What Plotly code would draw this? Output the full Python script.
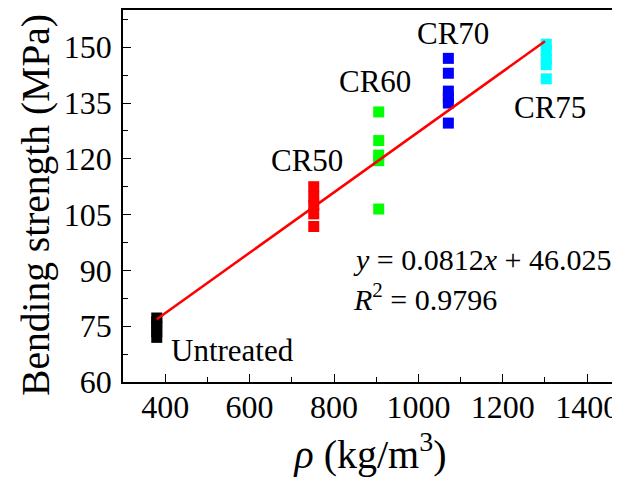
import plotly.graph_objects as go

# ---- data ----
groups = ["Untreated", "CR50", "CR60", "CR70", "CR75"]
densities = [380, 752, 906, 1071, 1303]
colors = ["#000000", "#ff0000", "#00ff00", "#0000ff", "#00ffff"]
untreated_strength = [72.0, 73.5, 75.0, 76.2, 77.2]
cr50_strength = [112.5, 109.8, 107.5, 105.2, 101.8]
cr60_strength = [132.6, 124.9, 121.0, 119.5, 106.5]
cr70_strength = [147.0, 143.0, 138.2, 136.6, 135.0, 129.6]
cr75_strength = [150.8, 149.0, 146.8, 145.3, 141.5]
strengths = [untreated_strength, cr50_strength, cr60_strength, cr70_strength, cr75_strength]

fit_slope = 0.0812
fit_intercept = 46.025
fit_r2 = 0.9796
fit_x = [380, 1300]

x_ticks = [400, 600, 800, 1000, 1200, 1400]
y_ticks = [60, 75, 90, 105, 120, 135, 150]

FONT = "Times New Roman, Liberation Serif, Tinos, DejaVu Serif, serif"

fig = go.Figure()
for name, rho, col, vals in zip(groups, densities, colors, strengths):
    fig.add_trace(go.Scatter(
        x=[rho] * len(vals), y=vals, mode="markers", name=name,
        marker=dict(symbol="square", size=11, color=col, line=dict(width=0)),
        showlegend=False))

fit_y = [fit_slope * v + fit_intercept for v in fit_x]
fig.add_trace(go.Scatter(x=fit_x, y=fit_y, mode="lines",
                         line=dict(color="#ff0000", width=2.5), showlegend=False))

label_pos = {
    "Untreated": (409, 68.6, "left"),
    "CR50": (736, 119.6, "center"),
    "CR60": (897, 140.9, "center"),
    "CR70": (1081, 153.6, "center"),
    "CR75": (1313, 133.9, "center"),
}
annots = []
for name in groups:
    x, y, xa = label_pos[name]
    annots.append(dict(x=x, y=y, xref="x", yref="y", text=name, showarrow=False,
                       xanchor=xa, yanchor="middle",
                       font=dict(family=FONT, size=31, color="black")))
annots.append(dict(x=840, y=92.9, xref="x", yref="y", showarrow=False,
                   xanchor="left", yanchor="middle",
                   text=f"<i>y</i> = {fit_slope}<i>x</i> + {fit_intercept}",
                   font=dict(family=FONT, size=30, color="black")))
annots.append(dict(x=840, y=82.8, xref="x", yref="y", showarrow=False,
                   xanchor="left", yanchor="middle",
                   text=f"<i>R</i><sup>2</sup> = {fit_r2}",
                   font=dict(family=FONT, size=30, color="black")))
# y-axis title (placed as a rotated annotation to match the reference offset)
annots.append(dict(x=-0.177, y=0.477, xref="paper", yref="paper", showarrow=False,
                   xanchor="center", yanchor="middle", textangle=-90,
                   text="Bending strength (MPa)",
                   font=dict(family=FONT, size=39.5, color="black")))

axis_common = dict(
    showline=True, linecolor="black", linewidth=1.6, mirror=True,
    ticks="inside", ticklen=8, tickwidth=1.4, tickcolor="black",
    showgrid=False, zeroline=False,
    tickfont=dict(family=FONT, size=32, color="black"),
)

# page body has an 8px default margin; size the figure so it fills the 620x477 window
fig.update_layout(
    width=612, height=469,
    margin=dict(l=115, r=0, t=2, b=95),
    paper_bgcolor="white", plot_bgcolor="white",
    font=dict(family=FONT, color="black"),
    annotations=annots,
    xaxis=dict(range=[300, 1473], tickvals=x_ticks, ticklabelstandoff=-4,
               ticklabeloverflow="allow",
               minor=dict(tickvals=[500, 700, 900, 1100, 1300], ticks="inside",
                          ticklen=5, tickwidth=1.4, tickcolor="black"),
               title=dict(text="<i>ρ</i> (kg/m<sup>3</sup>)", standoff=19,
                          font=dict(family=FONT, size=40, color="black")),
               **axis_common),
    yaxis=dict(range=[60, 160], tickvals=y_ticks, ticklabelstandoff=3,
               minor=dict(tickvals=[67.5, 82.5, 97.5, 112.5, 127.5, 142.5, 157.5],
                          ticks="inside", ticklen=5, tickwidth=1.4, tickcolor="black"),
               **axis_common),
)

fig.write_html("out.html")
